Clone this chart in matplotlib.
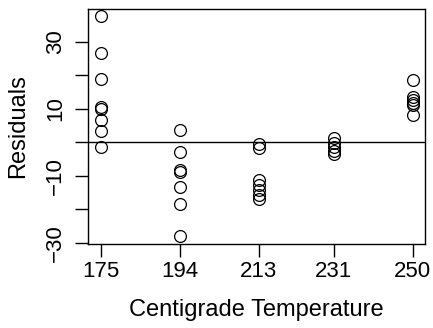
import matplotlib
matplotlib.use("Agg")
import matplotlib.pyplot as plt
import numpy as np

plt.rcParams['font.family'] = ['Liberation Sans', 'DejaVu Sans']

temps = [175, 194, 213, 231, 250]
res_175 = [37.6, 26.6, 18.8, 10.5, 9.8, 6.6, 3.4, -1.4]
res_194 = [3.7, -3.0, -8.4, -8.8, -13.4, -18.5, -27.8]
res_213 = [-0.6, -1.6, -11.2, -12.7, -14.2, -15.7, -17.0]
res_231 = [1.2, -0.3, -1.5, -2.5, -3.6]
res_250 = [18.6, 13.4, 12.5, 11.8, 11.1, 8.0]
residuals = [res_175, res_194, res_213, res_231, res_250]
y_ticks = [-30, -20, -10, 0, 10, 20, 30]
y_labels = ['\u221230', '', '\u221210', '', '10', '', '30']

fig = plt.figure(figsize=(4.33, 3.28), dpi=100)
ax = fig.add_axes([0.204, 0.256, 0.9815 - 0.204, 0.9726 - 0.256])

for t, r in zip(temps, residuals):
    ax.plot([t] * len(r), r, linestyle='none', marker='o', markersize=8.5,
            markerfacecolor='none', markeredgecolor='black', markeredgewidth=0.9)

ax.axhline(0, color='black', linewidth=1.0)

ax.set_xlim(172, 253)
ax.set_ylim(-30.3, 39.7)
ax.set_xticks(temps)
ax.set_xticklabels([str(t) for t in temps])
ax.set_yticks(y_ticks)
ax.set_yticklabels(y_labels, rotation=90, va='center')

ax.tick_params(axis='both', direction='out', length=9.5, width=1.0, labelsize=16, colors='black')
ax.tick_params(axis='x', pad=2.5)
ax.tick_params(axis='y', pad=6.5)
for s in ax.spines.values():
    s.set_linewidth(1.0)

ax.set_xlabel('Centigrade Temperature', fontsize=17, va='center')
ax.set_ylabel('Residuals', fontsize=17, va='center')
ax.xaxis.set_label_coords(0.5, -0.281)
ax.yaxis.set_label_coords(-0.209, 0.5)

fig.savefig('out.png', dpi=100)
